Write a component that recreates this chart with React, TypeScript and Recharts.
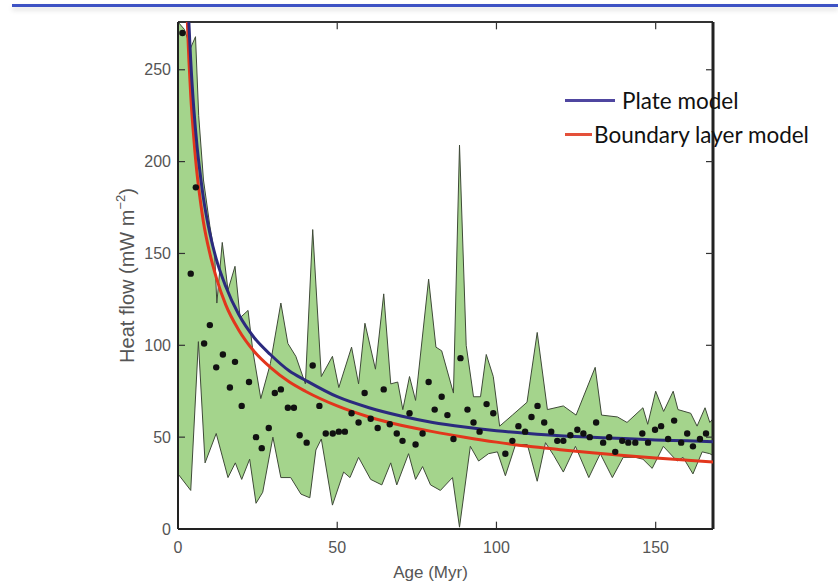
import React from 'react';
import { ComposedChart, Area, Line, Scatter, XAxis, YAxis, ReferenceLine, Legend } from 'recharts';

// envelope of observed heat flow (upper and lower edges of the green band)
const upperAge = [0, 2, 4, 5.5, 6.5, 8, 10, 11.5, 12.2, 13.9, 15.7, 17.9, 19.5, 22, 23.5, 26, 29, 32.3, 34.5, 37, 40, 42.3, 45, 48.5, 50.5, 54.5, 56.7, 58.7, 62, 64.6, 66.8, 69, 70.6, 72.7, 74.6, 78.7, 81, 82.8, 86.5, 88.4, 90.5, 92.8, 95, 96.8, 99, 101, 105, 109.6, 112.8, 116, 121, 125, 131, 133, 138, 141, 146, 147.5, 150, 152.5, 155.5, 157, 161, 163, 165.5, 167, 168];
const upperFlow = [276, 272, 262, 268, 225, 190, 165, 150, 123, 156, 130, 143, 115, 119, 97, 71, 90, 123, 101, 94, 79, 163, 83, 94, 77, 99, 79, 112, 87, 128, 79, 80, 65, 83, 70, 136, 99, 97, 74, 209, 100, 72, 72, 95, 83, 56, 62, 69, 107, 65, 67, 62, 88, 62, 61, 58, 66, 57, 75, 64, 75, 65, 63, 56, 66, 58, 60];

const lowerAge = [0, 4, 6.4, 8.5, 12, 15.7, 18, 20, 22.5, 24.5, 26.6, 29.8, 32.3, 35.4, 38.6, 41.4, 43.3, 45, 48.5, 52, 54, 56.7, 60.5, 64, 66.8, 68.7, 72.4, 74.6, 76.8, 79.3, 82.4, 86.2, 88.4, 91.8, 94.4, 97.5, 100.3, 102.8, 106, 109.7, 112.8, 115.4, 118, 121, 124.8, 129, 132.6, 136.4, 139.8, 143.6, 146, 148.9, 152.4, 156.7, 158.6, 161.7, 164.6, 167, 168];
const lowerFlow = [30, 21, 102, 36, 52, 28, 36, 27, 38, 14, 20, 50, 28, 28, 19, 17, 43, 49, 13, 31, 28, 39, 27, 24, 36, 24, 41, 27, 34, 24, 21, 28, 1, 45, 37, 41, 42, 29, 46, 46, 26, 47, 40, 31, 45, 28, 41, 28, 39, 39, 38, 33, 45, 37, 39, 30, 42, 41, 40];

// averaged heat flow (black dots)
const meanAge = [1.4, 4, 5.6, 8.2, 10, 12, 14.1, 16.3, 17.9, 20, 22.3, 24.5, 26.3, 28.5, 30.4, 32.3, 34.5, 36.4, 38.2, 40.4, 42.3, 44.4, 46.4, 48.6, 50.5, 52.4, 54.5, 56.7, 58.6, 60.5, 62.7, 64.6, 66.5, 68.7, 70.5, 72.7, 74.6, 76.8, 78.7, 80.6, 82.8, 84.6, 86.5, 88.7, 90.9, 92.8, 94.7, 96.9, 99, 102.8, 105, 106.9, 109, 111, 112.9, 115, 117.2, 119.1, 121, 123.2, 125.4, 127.3, 129.3, 131.3, 133.5, 135.4, 137.3, 139.5, 141.4, 143.6, 145.8, 147.6, 149.8, 151.7, 153.9, 155.8, 158, 159.9, 161.7, 163.9, 165.8];
const meanFlow = [270, 139, 186, 101, 111, 88, 95, 77, 91, 67, 80, 50, 44, 55, 74, 76, 66, 66, 51, 47, 89, 67, 52, 52, 53, 53, 63, 58, 74, 60, 55, 76, 57, 52, 48, 63, 46, 52, 80, 65, 72, 62, 49, 93, 65, 58, 53, 68, 63, 41, 48, 56, 53, 61, 67, 58, 53, 48, 48, 51, 54, 52, 50, 58, 47, 50, 42, 48, 47, 47, 52, 47, 54, 56, 49, 59, 47, 52, 45, 49, 52];

// model curves
const curveAge = [2.5, 3, 4, 5, 6, 7, 8, 10, 12, 15, 19, 24, 29, 35, 40, 50, 60, 70, 80, 90, 100, 110, 120, 130, 140, 150, 160, 168];
const plateFlow = [322, 294, 255, 228, 208, 193, 180, 161, 147, 132, 117, 104, 95, 86, 81, 72, 66, 61.5, 58, 55.5, 53.5, 52, 50.8, 50, 49.2, 48.5, 48, 47.5];
const boundaryFlow = [299, 273, 236, 212, 193, 179, 167, 150, 137, 122, 108.5, 96.5, 88, 80, 75, 67, 61, 56.5, 53, 50, 47.3, 45, 43.2, 41.5, 40, 38.6, 37.4, 36.5];

const xTicks = [0, 50, 100, 150];
const yTicks = [0, 50, 100, 150, 200, 250];
const xMax = 168;
const yMax = 276;

const legendItems = [
  { name: 'Plate model', color: '#4f46a0', width: 50, gap: 7 },
  { name: 'Boundary layer model', color: '#e4503a', width: 27, gap: 2 },
];

const rows = (ages: number[], flows: number[]) => ages.map((age, i) => ({ age, hf: flows[i] }));

const upper = rows(upperAge, upperFlow);
const lower = rows(lowerAge, lowerFlow);
const means = rows(meanAge, meanFlow);
const plate = rows(curveAge, plateFlow);
const boundary = rows(curveAge, boundaryFlow);

const font = "'Liberation Sans', Arial, sans-serif";
const tickStyle = { fontFamily: font, fontSize: 16, fill: '#555' };

const YTitle = ({ viewBox }: any) => {
  const cx = viewBox.x - 11;
  const cy = viewBox.y + viewBox.height / 2;
  return (
    <text x={cx} y={cy} transform={`rotate(-90 ${cx} ${cy})`} textAnchor="middle" dominantBaseline="central"
      style={{ fontFamily: font, fontSize: 20, fill: '#555' }}>
      Heat flow (mW m<tspan dy={-7} fontSize={13}>−2</tspan><tspan dy={7}>)</tspan>
    </text>
  );
};

const XTitle = ({ viewBox }: any) => {
  const cx = viewBox.x + viewBox.width / 2 - 15;
  const cy = 572;
  return (
    <text x={cx} y={cy} textAnchor="middle" dominantBaseline="central" style={{ fontFamily: font, fontSize: 17, fill: '#555' }}>
      Age (Myr)
    </text>
  );
};

const LegendBox = () => (
  <div style={{ fontFamily: "Lato, 'Open Sans', sans-serif", fontSize: 22.5, color: '#111' }}>
    {legendItems.map((it) => (
      <div key={it.name} style={{ display: 'flex', alignItems: 'center', height: 34, whiteSpace: 'nowrap' }}>
        <span style={{ display: 'inline-block', width: it.width, height: 3, background: it.color, marginRight: it.gap }} />
        <span>{it.name}</span>
      </div>
    ))}
  </div>
);

const Dot = (p: any) => <circle cx={p.cx} cy={p.cy} r={3.2} fill="#111" />;

export default function App() {
  return (
    <div style={{ position: 'absolute', left: 0, top: 0, width: 838, height: 583, background: '#fff' }}>
      <div style={{ position: 'absolute', left: 12, top: 4, width: 826, height: 3, background: '#3d52c4', boxShadow: '0 3px 5px rgba(0,0,0,0.15)' }} />
      <ComposedChart width={838} height={583} margin={{ top: 22, right: 125, bottom: 0, left: 138 }}>
        <XAxis type="number" dataKey="age" domain={[0, xMax]} ticks={xTicks} allowDataOverflow height={54}
          tickLine={false} tickSize={0} tickMargin={13} tick={tickStyle} stroke="#222" strokeWidth={2}
          label={<XTitle />} />
        <YAxis type="number" dataKey="hf" domain={[0, yMax]} ticks={yTicks} allowDataOverflow width={40}
          tickLine={false} tickSize={0} tickMargin={7} tick={tickStyle} stroke="#222" strokeWidth={2}
          label={<YTitle />} />
        <Area data={upper} dataKey="hf" type="linear" fill="#a4d48c" fillOpacity={1} stroke="#3f4a38" strokeWidth={1}
          isAnimationActive={false} legendType="none" />
        <Area data={lower} dataKey="hf" type="linear" fill="#ffffff" fillOpacity={1} stroke="#3f4a38" strokeWidth={1}
          isAnimationActive={false} legendType="none" />
        <ReferenceLine y={yMax} stroke="#333" strokeWidth={2} />
        <ReferenceLine x={xMax} stroke="#222" strokeWidth={3} />
        {yTicks.slice(1).map((t) => (
          <ReferenceLine key={'l' + t} segment={[{ x: 0, y: t }, { x: 2.2, y: t }]} stroke="#333" strokeWidth={1.2} />
        ))}
        {yTicks.slice(1).map((t) => (
          <ReferenceLine key={'r' + t} segment={[{ x: xMax - 2.2, y: t }, { x: xMax, y: t }]} stroke="#333" strokeWidth={1.2} />
        ))}
        {xTicks.slice(1).map((t) => (
          <ReferenceLine key={'b' + t} segment={[{ x: t, y: 0 }, { x: t, y: 4 }]} stroke="#333" strokeWidth={1.2} />
        ))}
        {xTicks.slice(1).map((t) => (
          <ReferenceLine key={'t' + t} segment={[{ x: t, y: yMax - 4 }, { x: t, y: yMax }]} stroke="#333" strokeWidth={1.2} />
        ))}
        <Line data={boundary} dataKey="hf" name="Boundary layer model" type="monotone" stroke="#e2361c" strokeWidth={3}
          dot={false} activeDot={false} isAnimationActive={false} />
        <Line data={plate} dataKey="hf" name="Plate model" type="monotone" stroke="#2b2a7e" strokeWidth={3}
          dot={false} activeDot={false} isAnimationActive={false} />
        <Scatter data={means} dataKey="hf" shape={Dot} isAnimationActive={false} legendType="none" />
        <Legend layout="horizontal" verticalAlign="middle" align="center" content={<LegendBox />}
          wrapperStyle={{ left: 565, top: 83, width: 273 }} />
      </ComposedChart>
    </div>
  );
}
